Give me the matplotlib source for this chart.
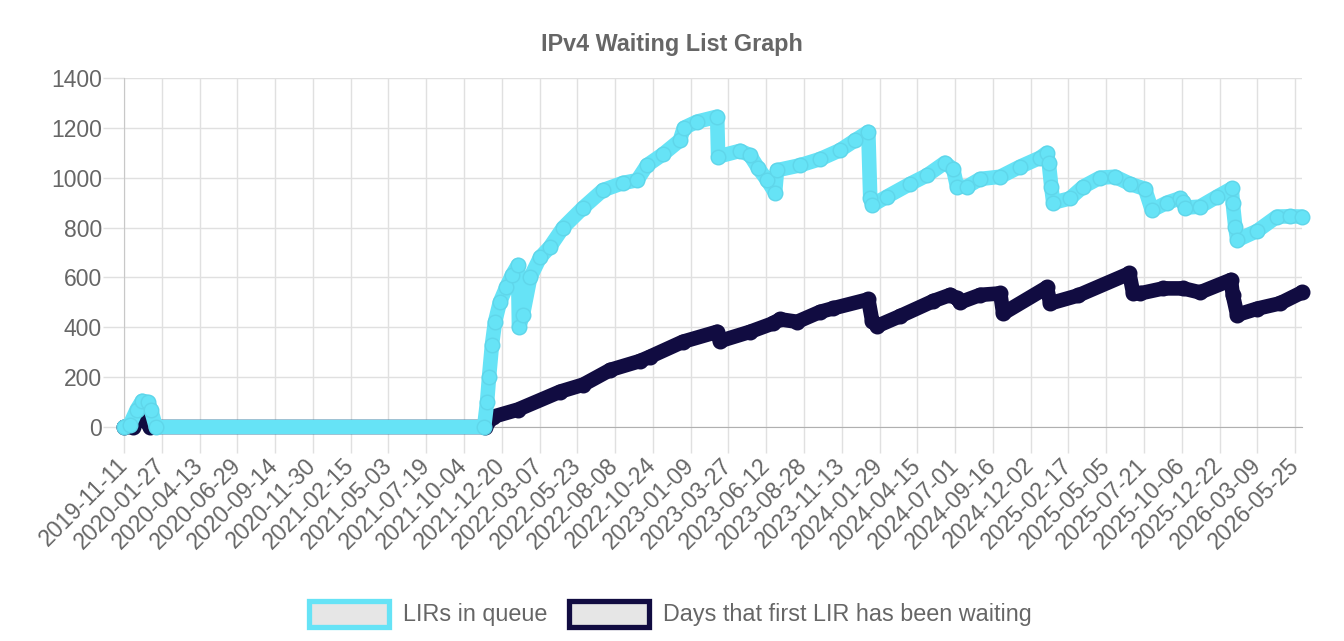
import numpy as np
import matplotlib
matplotlib.use('Agg')
import matplotlib.pyplot as plt
from matplotlib.patches import Rectangle

plt.rcParams['font.family'] = ['Liberation Sans', 'DejaVu Sans']

# daily category axis, first label 2019-11-11, a label every 77 days
start_date = np.datetime64('2019-11-11')
n_days = 2402
tick_step = 77

# LIRs in queue (x = day index from start_date)
lir_day = [0, 12, 26, 37, 49, 55, 65, 734, 740, 744, 750, 756, 766, 779, 791, 803,
           805, 813, 828, 848, 868, 895, 936, 976, 1017, 1046, 1066, 1099, 1133, 1141,
           1168, 1209, 1211, 1256, 1276, 1292, 1311, 1327, 1331, 1378, 1419, 1459, 1490,
           1517, 1521, 1525, 1555, 1602, 1637, 1673, 1690, 1698, 1718, 1745, 1786, 1826,
           1867, 1881, 1885, 1890, 1894, 1928, 1955, 1989, 2020, 2051, 2081, 2095, 2126,
           2152, 2159, 2163, 2193, 2228, 2258, 2260, 2265, 2269, 2310, 2350, 2377, 2401]
lir_count = [0, 10, 70, 105, 100, 70, 0, 0, 100, 200, 330, 420, 500, 560, 610, 650,
             400, 450, 600, 680, 722, 800, 880, 950, 979, 990, 1050, 1095, 1150, 1200,
             1225, 1245, 1085, 1108, 1090, 1040, 990, 940, 1030, 1050, 1075, 1110, 1150,
             1184, 918, 890, 924, 975, 1010, 1060, 1035, 964, 964, 995, 1004, 1044,
             1080, 1100, 1058, 964, 900, 917, 964, 1000, 1004, 975, 955, 870, 900,
             917, 904, 880, 884, 924, 957, 897, 803, 750, 787, 844, 845, 844]

# Days that first LIR has been waiting
wait_day = [0, 18, 37, 53, 736, 752, 803, 889, 936, 991, 1052, 1072, 1139, 1209, 1215,
            1276, 1323, 1337, 1372, 1419, 1445, 1517, 1525, 1535, 1582, 1649, 1684, 1698,
            1704, 1745, 1786, 1792, 1881, 1888, 1945, 2049, 2057, 2071, 2118, 2159, 2193,
            2256, 2260, 2269, 2310, 2356, 2401]
wait_value = [0, 0, 45, 0, 0, 41, 70, 142, 170, 229, 265, 282, 342, 382, 345,
              382, 416, 432, 422, 462, 476, 512, 425, 405, 445, 505, 530, 516,
              500, 530, 536, 456, 560, 496, 528, 616, 536, 536, 556, 556, 540,
              590, 530, 450, 475, 496, 540]

tick_pos = list(range(0, n_days, tick_step))
tick_labels = [str(start_date + np.timedelta64(d, 'D')) for d in tick_pos]

cyan = '#66e3f6'
navy = '#110c41'
text_col = '#666666'

W, H = 1344, 641
fig = plt.figure(figsize=(W / 100, H / 100), dpi=100)
ax = fig.add_axes([124 / W, 1 - 427 / H, (1302 - 124) / W, (427 - 78) / H])

ax.plot(wait_day, wait_value, color=navy, lw=10.5, solid_joinstyle='round',
        solid_capstyle='round', marker='o', ms=10.5, mfc=navy, mec=navy,
        zorder=3, clip_on=False)
ax.plot(lir_day, lir_count, color=cyan, lw=10.5, solid_joinstyle='round',
        solid_capstyle='round', marker='o', ms=10.5, mfc=cyan, mec='#5fd6ea',
        mew=1, zorder=4, clip_on=False)

ax.set_xlim(0, n_days - 1)
ax.set_ylim(0, 1400)
ax.set_yticks(range(0, 1401, 200))
ax.set_xticks(tick_pos)
ax.set_xticklabels(tick_labels)

ax.grid(True, color='#e0e0e0', lw=1, zorder=0)
ax.set_axisbelow(True)
for s in ['top', 'right']:
    ax.spines[s].set_visible(False)
ax.spines['left'].set_color('#c8c8c8')
ax.spines['bottom'].set_color('#b0b0b0')

ax.tick_params(axis='y', length=15, width=1, color='#e0e0e0', pad=1,
               labelsize=16.5, labelcolor=text_col)
ax.tick_params(axis='x', length=19, width=1, color='#e0e0e0', pad=6,
               labelsize=16.7, labelcolor=text_col)
for lab in ax.get_xticklabels():
    lab.set_rotation(45)
    lab.set_ha('right')
    lab.set_va('center')
    lab.set_rotation_mode('anchor')

fig.text(0.5, 1 - 45 / H, 'IPv4 Waiting List Graph', ha='center', va='center',
         fontsize=16.8, fontweight='bold', color=text_col)

# legend drawn like the chart.js boxes
legend_items = [('LIRs in queue', cyan, 309), ('Days that first LIR has been waiting', navy, 569)]
for label, col, x0 in legend_items:
    fig.patches.append(Rectangle((x0 / W, 1 - 627 / H), 80 / W, 26 / H,
                                 transform=fig.transFigure, facecolor='#e6e6e6',
                                 edgecolor=col, lw=3.8))
    fig.text((x0 + 94) / W, 1 - 614 / H, label, ha='left', va='center',
             fontsize=16.8, color=text_col)

fig.savefig('out.png', dpi=100)
